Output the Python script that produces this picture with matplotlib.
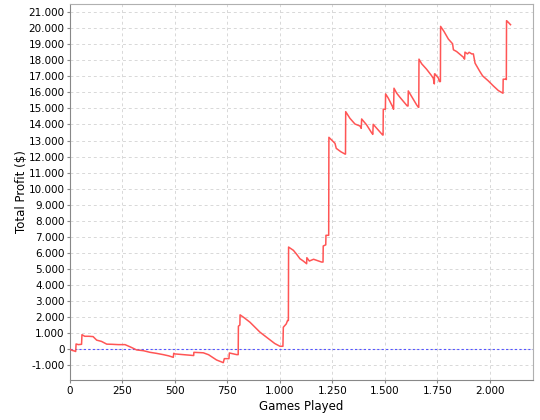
import matplotlib
matplotlib.use("Agg")
import matplotlib.pyplot as plt
from matplotlib.ticker import FuncFormatter

games = [0, 10, 22, 27, 29, 40, 55, 57, 70, 90, 110, 127, 150, 175, 200, 230, 262,
         290, 317, 350, 381, 410, 444, 470, 492, 494, 500, 540, 587, 589, 590, 635,
         660, 698, 730, 735, 757, 759, 794, 801, 802, 809, 810, 830, 857, 880, 905,
         930, 952, 975, 1000, 1014, 1016, 1030, 1036, 1040, 1041, 1064, 1080, 1095,
         1110, 1127, 1128, 1140, 1160, 1198, 1205, 1206, 1218, 1219, 1232, 1233,
         1262, 1268, 1290, 1310, 1312, 1313, 1333, 1357, 1381, 1387, 1389, 1413,
         1436, 1442, 1444, 1468, 1489, 1491, 1492, 1500, 1502, 1503, 1516, 1536,
         1541, 1543, 1556, 1571, 1595, 1606, 1610, 1611, 1627, 1651, 1659, 1661,
         1662, 1675, 1698, 1719, 1730, 1735, 1736, 1738, 1754, 1759, 1764, 1765,
         1781, 1802, 1822, 1826, 1841, 1873, 1879, 1881, 1893, 1901, 1913, 1921,
         1929, 1952, 1965, 1992, 2016, 2040, 2056, 2062, 2063, 2075, 2078, 2079,
         2085, 2098]
profit = [0, -80, -120, -150, 320, 280, 300, 900, 800, 800, 780, 560, 480, 310, 300,
          280, 280, 120, -50, -100, -200, -260, -344, -420, -510, -260, -300, -344,
          -400, -400, -200, -230, -350, -677, -844, -594, -594, -240, -344, -344,
          1430, 1500, 2135, 1950, 1677, 1380, 1052, 800, 573, 350, 177, 177, 1365,
          1573, 1781, 1781, 6360, 6156, 5900, 5635, 5500, 5323, 5698, 5490, 5600,
          5427, 5427, 6427, 6500, 7094, 7094, 13200, 12825, 12512, 12300, 12156,
          12156, 14800, 14387, 14031, 13906, 13760, 14344, 13969, 13490, 13385,
          14010, 13656, 13344, 13344, 14950, 14950, 14950, 15906, 15636, 15115,
          14950, 16260, 15948, 15700, 15323, 15156, 15156, 16094, 15740, 15219,
          15073, 15073, 18073, 17781, 17448, 17094, 16885, 16531, 17156, 17156,
          16900, 16677, 16677, 20115, 19802, 19323, 19031, 18656, 18550, 18198,
          18073, 18510, 18400, 18500, 18400, 18400, 17823, 17302, 17031, 16719,
          16406, 16115, 15990, 15948, 16823, 16823, 16800, 20469, 20400, 20219]

y_ticks = list(range(-1000, 21001, 1000))
x_ticks = list(range(0, 2001, 250))

fig = plt.figure(figsize=(5.4, 4.2), dpi=100)
ax = fig.add_axes([70/540, 1 - 380/420, (533-70)/540, (380-4)/420])

ax.plot(games, profit, color="#ff5555", lw=1.1, zorder=3)
ax.axhline(0, color="#5555ff", lw=0.8, ls=(0, (2, 2)), zorder=2)

ax.set_xlim(0, 2205)
ax.set_ylim(-1925, 21510)
ax.set_xticks(x_ticks)
ax.set_yticks(y_ticks)

def fmt(v, pos):
    return f"{int(round(v)):,}".replace(",", ".")

ax.xaxis.set_major_formatter(FuncFormatter(fmt))
ax.yaxis.set_major_formatter(FuncFormatter(fmt))
ax.grid(True, color="#d8d8d8", ls=(0, (3, 3)), lw=0.7)
ax.set_axisbelow(True)
for s in ax.spines.values():
    s.set_color("#b0b0b0")
ax.spines["left"].set_color("#888888")
ax.spines["bottom"].set_color("#888888")
ax.tick_params(axis="both", labelsize=7.5, length=2, color="#888888", pad=2)
ax.set_xlabel("Games Played", fontsize=8.5, labelpad=3)
ax.set_ylabel("Total Profit ($)", fontsize=8.5, labelpad=0)

fig.savefig("out.png", dpi=100)
